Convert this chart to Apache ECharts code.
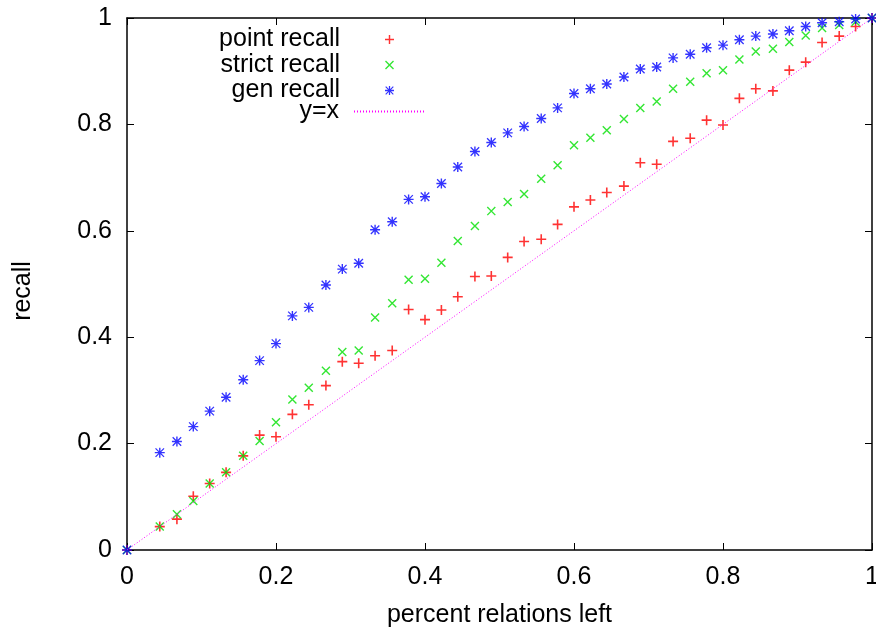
<!DOCTYPE html>
<html>
<head>
<meta charset="utf-8">
<script src="https://cdn.jsdelivr.net/npm/echarts@6/dist/echarts.min.js"></script>
<style>
  html, body { margin: 0; padding: 0; background: #fff; }
  #main { width: 876px; height: 630px; }
</style>
</head>
<body>
<div id="main"></div>
<script>
// percent relations left (x positions of the points)
var xVals = [0, 0.044, 0.067, 0.089, 0.111, 0.133, 0.156, 0.178, 0.2, 0.222,
  0.244, 0.267, 0.289, 0.311, 0.333, 0.356, 0.378, 0.4, 0.422, 0.444,
  0.467, 0.489, 0.511, 0.533, 0.556, 0.578, 0.6, 0.622, 0.644, 0.667,
  0.689, 0.711, 0.733, 0.756, 0.778, 0.8, 0.822, 0.844, 0.867, 0.889,
  0.911, 0.933, 0.956, 0.978, 1];

var pointRecall = [0, 0.044, 0.058, 0.101, 0.125, 0.146, 0.177, 0.216, 0.213, 0.255,
  0.273, 0.309, 0.354, 0.351, 0.365, 0.375, 0.452, 0.433, 0.451, 0.476,
  0.514, 0.515, 0.550, 0.580, 0.584, 0.612, 0.645, 0.658, 0.672, 0.684,
  0.728, 0.725, 0.768, 0.774, 0.808, 0.799, 0.849, 0.867, 0.863, 0.902,
  0.917, 0.954, 0.966, 0.984, 1];

var strictRecall = [0, 0.044, 0.067, 0.092, 0.125, 0.146, 0.177, 0.205, 0.240, 0.283,
  0.305, 0.337, 0.372, 0.375, 0.437, 0.464, 0.508, 0.510, 0.540, 0.581,
  0.609, 0.637, 0.654, 0.669, 0.698, 0.723, 0.761, 0.775, 0.789, 0.810,
  0.831, 0.843, 0.867, 0.880, 0.896, 0.902, 0.922, 0.937, 0.942, 0.955,
  0.967, 0.981, 0.987, 0.993, 1];

var genRecall = [0, 0.183, 0.204, 0.232, 0.261, 0.287, 0.320, 0.356, 0.388, 0.440,
  0.456, 0.498, 0.528, 0.539, 0.602, 0.617, 0.659, 0.664, 0.689, 0.720,
  0.749, 0.766, 0.784, 0.796, 0.811, 0.831, 0.858, 0.867, 0.876, 0.889,
  0.904, 0.908, 0.925, 0.932, 0.944, 0.949, 0.959, 0.966, 0.970, 0.976,
  0.984, 0.991, 0.993, 0.998, 1];

var diagonal = [[0, 0], [1, 1]];

// gnuplot-like point types
var plusPath = 'path://M0,4.2H10V5.8H0ZM4.2,0H5.8V10H4.2Z';
var crossPath = 'path://M0,1.1L1.1,0L10,8.9L8.9,10ZM8.9,0L10,1.1L1.1,10L0,8.9Z';
var starPath = 'path://M0,4.3H10V5.7H0ZM4.3,0H5.7V10H4.3ZM0.3,1.2L1.2,0.3L9.7,8.8L8.8,9.7ZM8.8,0.3L9.7,1.2L1.2,9.7L0.3,8.8Z';

var font = 'Liberation Sans, Arial, sans-serif';
var fs = 25;

function pairs(ys) {
  var out = [];
  for (var i = 0; i < xVals.length; i++) out.push([xVals[i], ys[i]]);
  return out;
}

function frameAxis(extra) {
  var ax = {
    type: 'value',
    min: 0,
    max: 1,
    interval: 0.2,
    axisLine: { show: true, onZero: false, lineStyle: { color: '#000', width: 1.5 } },
    axisTick: { show: true, inside: true, length: 7, lineStyle: { color: '#000', width: 1 } },
    axisLabel: { show: false },
    splitLine: { show: false }
  };
  for (var k in extra) ax[k] = extra[k];
  return ax;
}

var chart = echarts.init(document.getElementById('main'), null, { renderer: 'canvas' });

chart.setOption({
  backgroundColor: '#fff',
  animation: false,
  grid: { left: 127, right: 4, top: 18, bottom: 80, containLabel: false, outerBoundsMode: 'none' },
  legend: [
    {
      data: ['point recall', 'strict recall', 'gen recall'],
      orient: 'vertical',
      align: 'right',
      right: 477,
      top: 22,
      itemWidth: 9,
      itemHeight: 9,
      itemGap: 0.5,
      selectedMode: false,
      textStyle: { color: '#000', fontSize: fs, fontFamily: font, lineHeight: 24, padding: [0, 40, 0, 0] }
    },
    {
      data: ['y=x'],
      orient: 'vertical',
      align: 'right',
      right: 446,
      top: 94,
      itemWidth: 70,
      itemHeight: 9,
      selectedMode: false,
      itemStyle: { opacity: 0 },
      textStyle: { color: '#000', fontSize: fs, fontFamily: font, lineHeight: 24, padding: [0, 10, 0, 0] }
    }
  ],
  xAxis: [
    frameAxis({
      position: 'bottom',
      name: 'percent relations left',
      nameLocation: 'middle',
      nameGap: 53,
      nameTextStyle: { color: '#000', fontSize: fs, fontFamily: font },
      axisLabel: { show: true, color: '#000', fontSize: fs, fontFamily: font, margin: 15 }
    }),
    frameAxis({ position: 'top' })
  ],
  yAxis: [
    frameAxis({
      position: 'left',
      name: 'recall',
      nameLocation: 'middle',
      nameGap: 91,
      nameTextStyle: { color: '#000', fontSize: fs, fontFamily: font, padding: [0, 14, 0, 0] },
      axisLabel: { show: true, color: '#000', fontSize: fs, fontFamily: font, margin: 15 }
    }),
    frameAxis({ position: 'right' })
  ],
  series: [
    {
      name: 'point recall',
      type: 'scatter',
      clip: false,
      symbol: plusPath,
      symbolSize: 10,
      itemStyle: { color: '#ff0000' },
      data: pairs(pointRecall)
    },
    {
      name: 'strict recall',
      type: 'scatter',
      clip: false,
      symbol: crossPath,
      symbolSize: 9,
      itemStyle: { color: '#00e000' },
      data: pairs(strictRecall)
    },
    {
      name: 'gen recall',
      type: 'scatter',
      clip: false,
      symbol: starPath,
      symbolSize: 10,
      itemStyle: { color: '#0000ff' },
      data: pairs(genRecall)
    },
    {
      name: 'y=x',
      type: 'line',
      symbol: 'none',
      lineStyle: { color: '#ff00ff', width: 1, type: [1, 2] },
      itemStyle: { color: '#ff00ff' },
      data: diagonal
    }
  ]
});
</script>
</body>
</html>
